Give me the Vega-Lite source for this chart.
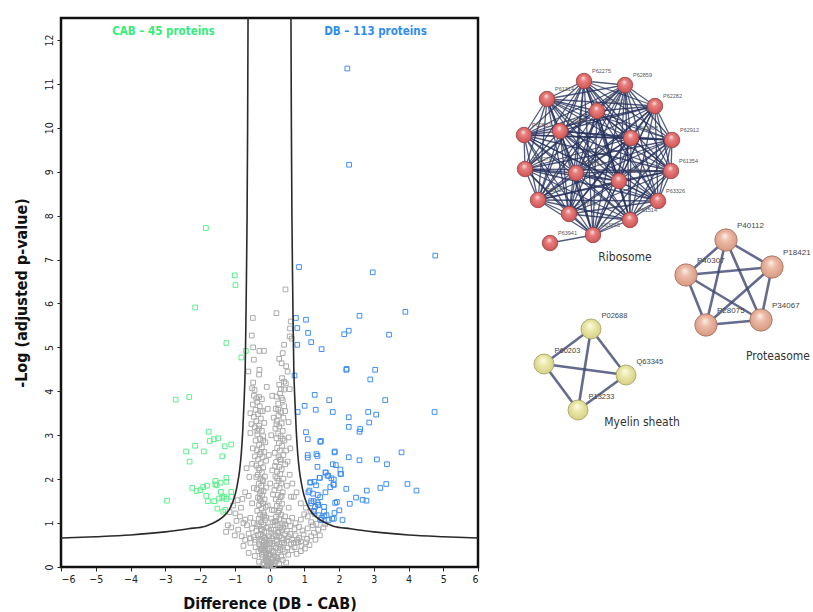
{
 "$schema": "https://vega.github.io/schema/vega-lite/v6.json",
 "background": "white",
 "padding": {"left": 11, "top": 16, "right": 0, "bottom": 0},
 "config": {"view": {"stroke": "#111", "strokeWidth": 2.5}, "font": "DejaVu Sans Condensed"},
 "spacing": 9,
 "datasets": {
  "volcano": [
   {"diff":0.46,"logp":6.32,"group":"ns"},{"diff":0.20,"logp":5.78,"group":"ns"},{"diff":-0.48,"logp":5.67,"group":"ns"},{"diff":0.61,"logp":5.59,"group":"ns"},{"diff":0.59,"logp":5.43,"group":"ns"},{"diff":-0.51,"logp":5.27,"group":"ns"},{"diff":0.58,"logp":5.25,"group":"ns"},{"diff":0.64,"logp":5.20,"group":"ns"},{"diff":0.42,"logp":5.06,"group":"ns"},{"diff":-0.47,"logp":5.00,"group":"ns"},{"diff":-0.29,"logp":4.92,"group":"ns"},{"diff":-0.16,"logp":4.92,"group":"ns"},{"diff":0.38,"logp":4.87,"group":"ns"},{"diff":-0.45,"logp":4.72,"group":"ns"},{"diff":0.28,"logp":4.74,"group":"ns"},{"diff":0.35,"logp":4.64,"group":"ns"},{"diff":0.48,"logp":4.57,"group":"ns"},{"diff":0.52,"logp":4.45,"group":"ns"},{"diff":-0.61,"logp":4.45,"group":"ns"},{"diff":-0.29,"logp":4.49,"group":"ns"},{"diff":-0.30,"logp":4.38,"group":"ns"},{"diff":0.36,"logp":4.30,"group":"ns"},{"diff":0.42,"logp":4.22,"group":"ns"},{"diff":0.47,"logp":4.18,"group":"ns"},{"diff":-0.47,"logp":4.20,"group":"ns"},{"diff":-0.50,"logp":4.07,"group":"ns"},{"diff":-0.43,"logp":4.03,"group":"ns"},{"diff":0.33,"logp":4.05,"group":"ns"},{"diff":0.42,"logp":4.04,"group":"ns"},{"diff":0.58,"logp":4.05,"group":"ns"},{"diff":-0.08,"logp":4.10,"group":"ns"},{"diff":0.28,"logp":4.15,"group":"ns"},
   {"diff":-0.45,"logp":3.90,"group":"ns"},{"diff":-0.38,"logp":3.84,"group":"ns"},{"diff":-0.30,"logp":3.87,"group":"ns"},{"diff":-0.22,"logp":3.82,"group":"ns"},{"diff":-0.35,"logp":3.76,"group":"ns"},{"diff":-0.48,"logp":3.70,"group":"ns"},{"diff":-0.28,"logp":3.66,"group":"ns"},{"diff":-0.40,"logp":3.58,"group":"ns"},{"diff":-0.20,"logp":3.55,"group":"ns"},{"diff":-0.33,"logp":3.48,"group":"ns"},{"diff":-0.45,"logp":3.42,"group":"ns"},{"diff":-0.25,"logp":3.38,"group":"ns"},{"diff":-0.38,"logp":3.32,"group":"ns"},{"diff":-0.15,"logp":3.28,"group":"ns"},{"diff":-0.52,"logp":3.25,"group":"ns"},{"diff":-0.30,"logp":3.22,"group":"ns"},{"diff":-0.42,"logp":3.18,"group":"ns"},
   {"diff":-0.31,"logp":3.15,"group":"ns"},{"diff":-0.22,"logp":3.10,"group":"ns"},{"diff":-0.35,"logp":3.02,"group":"ns"},{"diff":-0.18,"logp":2.98,"group":"ns"},{"diff":-0.27,"logp":2.92,"group":"ns"},{"diff":-0.40,"logp":2.88,"group":"ns"},{"diff":-0.12,"logp":2.84,"group":"ns"},{"diff":-0.30,"logp":2.78,"group":"ns"},{"diff":-0.22,"logp":2.72,"group":"ns"},{"diff":-0.36,"logp":2.66,"group":"ns"},{"diff":-0.15,"logp":2.62,"group":"ns"},{"diff":-0.28,"logp":2.57,"group":"ns"},{"diff":-0.20,"logp":2.50,"group":"ns"},{"diff":-0.33,"logp":2.45,"group":"ns"},{"diff":-0.10,"logp":2.42,"group":"ns"},{"diff":-0.25,"logp":2.36,"group":"ns"},{"diff":-0.38,"logp":2.31,"group":"ns"},{"diff":-0.18,"logp":2.27,"group":"ns"},{"diff":-0.29,"logp":2.21,"group":"ns"},{"diff":-0.22,"logp":2.15,"group":"ns"},{"diff":-0.34,"logp":2.10,"group":"ns"},{"diff":-0.13,"logp":2.06,"group":"ns"},{"diff":-0.26,"logp":2.01,"group":"ns"},{"diff":-0.19,"logp":1.95,"group":"ns"},{"diff":-0.31,"logp":1.90,"group":"ns"},{"diff":-0.24,"logp":1.85,"group":"ns"},{"diff":-0.09,"logp":1.81,"group":"ns"},{"diff":-0.36,"logp":1.77,"group":"ns"},{"diff":-0.17,"logp":1.73,"group":"ns"},{"diff":-0.28,"logp":1.68,"group":"ns"},{"diff":-0.21,"logp":1.63,"group":"ns"},{"diff":-0.33,"logp":1.58,"group":"ns"},{"diff":-0.14,"logp":1.54,"group":"ns"},{"diff":-0.25,"logp":1.50,"group":"ns"},{"diff":-0.19,"logp":1.45,"group":"ns"},{"diff":-0.30,"logp":1.41,"group":"ns"},{"diff":-0.11,"logp":1.37,"group":"ns"},{"diff":-0.23,"logp":1.33,"group":"ns"},{"diff":-0.35,"logp":1.28,"group":"ns"},{"diff":-0.17,"logp":1.24,"group":"ns"},{"diff":-0.27,"logp":1.19,"group":"ns"},{"diff":-0.20,"logp":1.15,"group":"ns"},{"diff":-0.31,"logp":1.10,"group":"ns"},{"diff":-0.13,"logp":1.06,"group":"ns"},{"diff":-0.24,"logp":1.02,"group":"ns"},{"diff":-0.18,"logp":0.97,"group":"ns"},{"diff":-0.29,"logp":0.93,"group":"ns"},{"diff":-0.09,"logp":0.89,"group":"ns"},{"diff":-0.22,"logp":0.84,"group":"ns"},{"diff":-0.15,"logp":0.80,"group":"ns"},{"diff":-0.26,"logp":0.75,"group":"ns"},{"diff":-0.19,"logp":0.70,"group":"ns"},{"diff":-0.12,"logp":0.66,"group":"ns"},{"diff":-0.23,"logp":0.61,"group":"ns"},{"diff":-0.16,"logp":0.56,"group":"ns"},{"diff":-0.08,"logp":0.52,"group":"ns"},{"diff":-0.20,"logp":0.47,"group":"ns"},{"diff":-0.13,"logp":0.43,"group":"ns"},{"diff":-0.05,"logp":0.38,"group":"ns"},{"diff":-0.17,"logp":0.34,"group":"ns"},{"diff":-0.10,"logp":0.29,"group":"ns"},{"diff":-0.03,"logp":0.25,"group":"ns"},{"diff":-0.12,"logp":0.20,"group":"ns"},{"diff":-0.06,"logp":0.15,"group":"ns"},{"diff":-0.01,"logp":0.10,"group":"ns"},{"diff":-0.08,"logp":0.06,"group":"ns"},{"diff":0.02,"logp":0.03,"group":"ns"},
   {"diff":0.30,"logp":3.95,"group":"ns"},{"diff":0.20,"logp":3.88,"group":"ns"},{"diff":0.38,"logp":3.80,"group":"ns"},{"diff":0.25,"logp":3.72,"group":"ns"},{"diff":0.42,"logp":3.66,"group":"ns"},{"diff":0.18,"logp":3.60,"group":"ns"},{"diff":0.33,"logp":3.52,"group":"ns"},{"diff":0.26,"logp":3.45,"group":"ns"},{"diff":0.40,"logp":3.40,"group":"ns"},{"diff":0.21,"logp":3.33,"group":"ns"},{"diff":0.35,"logp":3.27,"group":"ns"},{"diff":0.28,"logp":3.20,"group":"ns"},{"diff":0.17,"logp":3.15,"group":"ns"},{"diff":0.38,"logp":3.10,"group":"ns"},{"diff":0.25,"logp":3.04,"group":"ns"},{"diff":0.32,"logp":2.98,"group":"ns"},{"diff":0.20,"logp":2.93,"group":"ns"},{"diff":0.43,"logp":2.88,"group":"ns"},{"diff":0.27,"logp":2.82,"group":"ns"},{"diff":0.36,"logp":2.76,"group":"ns"},{"diff":0.22,"logp":2.71,"group":"ns"},{"diff":0.30,"logp":2.65,"group":"ns"},{"diff":0.15,"logp":2.60,"group":"ns"},{"diff":0.40,"logp":2.55,"group":"ns"},{"diff":0.26,"logp":2.50,"group":"ns"},{"diff":0.33,"logp":2.44,"group":"ns"},{"diff":0.19,"logp":2.39,"group":"ns"},{"diff":0.45,"logp":2.34,"group":"ns"},{"diff":0.28,"logp":2.28,"group":"ns"},{"diff":0.35,"logp":2.22,"group":"ns"},{"diff":0.22,"logp":2.17,"group":"ns"},{"diff":0.31,"logp":2.12,"group":"ns"},{"diff":0.17,"logp":2.06,"group":"ns"},{"diff":0.40,"logp":2.01,"group":"ns"},{"diff":0.26,"logp":1.96,"group":"ns"},{"diff":0.34,"logp":1.90,"group":"ns"},{"diff":0.20,"logp":1.85,"group":"ns"},{"diff":0.29,"logp":1.80,"group":"ns"},{"diff":0.14,"logp":1.75,"group":"ns"},{"diff":0.38,"logp":1.70,"group":"ns"},{"diff":0.24,"logp":1.64,"group":"ns"},{"diff":0.32,"logp":1.59,"group":"ns"},{"diff":0.18,"logp":1.54,"group":"ns"},{"diff":0.27,"logp":1.49,"group":"ns"},{"diff":0.36,"logp":1.44,"group":"ns"},{"diff":0.21,"logp":1.39,"group":"ns"},{"diff":0.30,"logp":1.34,"group":"ns"},{"diff":0.13,"logp":1.29,"group":"ns"},{"diff":0.25,"logp":1.24,"group":"ns"},{"diff":0.34,"logp":1.19,"group":"ns"},{"diff":0.19,"logp":1.14,"group":"ns"},{"diff":0.28,"logp":1.09,"group":"ns"},{"diff":0.16,"logp":1.04,"group":"ns"},{"diff":0.37,"logp":0.99,"group":"ns"},{"diff":0.23,"logp":0.95,"group":"ns"},{"diff":0.31,"logp":0.90,"group":"ns"},{"diff":0.12,"logp":0.85,"group":"ns"},{"diff":0.26,"logp":0.80,"group":"ns"},
   {"diff":-0.55,"logp":3.05,"group":"ns"},{"diff":-0.48,"logp":2.70,"group":"ns"},{"diff":0.55,"logp":2.95,"group":"ns"},{"diff":0.60,"logp":2.70,"group":"ns"},{"diff":0.05,"logp":3.00,"group":"ns"},{"diff":-0.02,"logp":2.55,"group":"ns"},{"diff":0.08,"logp":2.20,"group":"ns"},{"diff":-0.50,"logp":2.35,"group":"ns"},{"diff":0.52,"logp":2.40,"group":"ns"},{"diff":0.58,"logp":2.10,"group":"ns"},{"diff":-0.58,"logp":2.05,"group":"ns"},{"diff":0.02,"logp":1.90,"group":"ns"},{"diff":0.10,"logp":1.65,"group":"ns"},{"diff":-0.45,"logp":1.80,"group":"ns"},{"diff":0.50,"logp":1.85,"group":"ns"},{"diff":0.62,"logp":1.60,"group":"ns"},{"diff":-0.60,"logp":1.62,"group":"ns"},{"diff":-0.05,"logp":1.40,"group":"ns"},{"diff":0.07,"logp":1.30,"group":"ns"},{"diff":-0.50,"logp":1.45,"group":"ns"},{"diff":0.55,"logp":1.35,"group":"ns"},{"diff":0.70,"logp":1.60,"group":"ns"},{"diff":0.78,"logp":1.70,"group":"ns"},{"diff":-0.70,"logp":1.70,"group":"ns"},{"diff":-0.78,"logp":1.55,"group":"ns"},{"diff":0.66,"logp":1.90,"group":"ns"},{"diff":-0.66,"logp":2.25,"group":"ns"},{"diff":0.48,"logp":2.65,"group":"ns"},{"diff":-0.42,"logp":2.52,"group":"ns"},{"diff":0.45,"logp":3.55,"group":"ns"},{"diff":0.55,"logp":3.30,"group":"ns"},{"diff":-0.55,"logp":3.50,"group":"ns"},{"diff":0.12,"logp":3.40,"group":"ns"},{"diff":-0.05,"logp":3.60,"group":"ns"},{"diff":0.08,"logp":3.90,"group":"ns"},
   {"diff":-0.95,"logp":1.05,"group":"ns"},{"diff":-0.85,"logp":1.15,"group":"ns"},{"diff":-0.70,"logp":1.08,"group":"ns"},{"diff":-0.55,"logp":1.12,"group":"ns"},{"diff":-0.45,"logp":1.00,"group":"ns"},{"diff":0.05,"logp":1.10,"group":"ns"},{"diff":0.10,"logp":1.02,"group":"ns"},{"diff":0.45,"logp":1.15,"group":"ns"},{"diff":0.55,"logp":1.05,"group":"ns"},{"diff":0.65,"logp":1.12,"group":"ns"},{"diff":0.75,"logp":1.00,"group":"ns"},{"diff":0.90,"logp":1.08,"group":"ns"},{"diff":1.00,"logp":1.20,"group":"ns"},{"diff":1.20,"logp":1.02,"group":"ns"},{"diff":1.10,"logp":1.15,"group":"ns"},
   {"diff":-1.10,"logp":0.90,"group":"ns"},{"diff":-0.90,"logp":0.85,"group":"ns"},{"diff":-0.65,"logp":0.95,"group":"ns"},{"diff":-0.50,"logp":0.88,"group":"ns"},{"diff":-0.38,"logp":0.82,"group":"ns"},{"diff":-0.05,"logp":0.92,"group":"ns"},{"diff":0.05,"logp":0.85,"group":"ns"},{"diff":0.15,"logp":0.95,"group":"ns"},{"diff":0.40,"logp":0.90,"group":"ns"},{"diff":0.50,"logp":0.82,"group":"ns"},{"diff":0.60,"logp":0.93,"group":"ns"},{"diff":0.72,"logp":0.86,"group":"ns"},{"diff":0.85,"logp":0.91,"group":"ns"},{"diff":0.95,"logp":0.83,"group":"ns"},{"diff":1.10,"logp":0.88,"group":"ns"},{"diff":1.25,"logp":0.95,"group":"ns"},{"diff":1.40,"logp":0.85,"group":"ns"},{"diff":1.55,"logp":0.90,"group":"ns"},{"diff":1.35,"logp":0.98,"group":"ns"},
   {"diff":-1.00,"logp":0.72,"group":"ns"},{"diff":-0.80,"logp":0.70,"group":"ns"},{"diff":-0.60,"logp":0.76,"group":"ns"},{"diff":-0.45,"logp":0.68,"group":"ns"},{"diff":-0.33,"logp":0.73,"group":"ns"},{"diff":-0.02,"logp":0.70,"group":"ns"},{"diff":0.08,"logp":0.65,"group":"ns"},{"diff":0.18,"logp":0.72,"group":"ns"},{"diff":0.35,"logp":0.66,"group":"ns"},{"diff":0.45,"logp":0.75,"group":"ns"},{"diff":0.55,"logp":0.68,"group":"ns"},{"diff":0.65,"logp":0.62,"group":"ns"},{"diff":0.75,"logp":0.72,"group":"ns"},{"diff":0.85,"logp":0.66,"group":"ns"},{"diff":0.98,"logp":0.74,"group":"ns"},{"diff":1.08,"logp":0.64,"group":"ns"},{"diff":1.20,"logp":0.70,"group":"ns"},{"diff":1.32,"logp":0.62,"group":"ns"},{"diff":1.45,"logp":0.72,"group":"ns"},{"diff":1.28,"logp":0.78,"group":"ns"},{"diff":-0.70,"logp":0.62,"group":"ns"},
   {"diff":-0.75,"logp":0.48,"group":"ns"},{"diff":-0.55,"logp":0.55,"group":"ns"},{"diff":-0.40,"logp":0.45,"group":"ns"},{"diff":-0.30,"logp":0.58,"group":"ns"},{"diff":-0.12,"logp":0.50,"group":"ns"},{"diff":0.02,"logp":0.55,"group":"ns"},{"diff":0.12,"logp":0.48,"group":"ns"},{"diff":0.22,"logp":0.58,"group":"ns"},{"diff":0.32,"logp":0.46,"group":"ns"},{"diff":0.42,"logp":0.55,"group":"ns"},{"diff":0.52,"logp":0.44,"group":"ns"},{"diff":0.62,"logp":0.52,"group":"ns"},{"diff":0.72,"logp":0.45,"group":"ns"},{"diff":0.82,"logp":0.56,"group":"ns"},{"diff":0.92,"logp":0.48,"group":"ns"},{"diff":1.02,"logp":0.42,"group":"ns"},{"diff":1.15,"logp":0.50,"group":"ns"},{"diff":-0.22,"logp":0.42,"group":"ns"},{"diff":0.28,"logp":0.52,"group":"ns"},{"diff":0.38,"logp":0.40,"group":"ns"},
   {"diff":-0.60,"logp":0.32,"group":"ns"},{"diff":-0.42,"logp":0.25,"group":"ns"},{"diff":-0.32,"logp":0.36,"group":"ns"},{"diff":-0.22,"logp":0.28,"group":"ns"},{"diff":-0.14,"logp":0.38,"group":"ns"},{"diff":-0.02,"logp":0.30,"group":"ns"},{"diff":0.06,"logp":0.36,"group":"ns"},{"diff":0.14,"logp":0.26,"group":"ns"},{"diff":0.24,"logp":0.33,"group":"ns"},{"diff":0.34,"logp":0.24,"group":"ns"},{"diff":0.44,"logp":0.35,"group":"ns"},{"diff":0.54,"logp":0.28,"group":"ns"},{"diff":0.64,"logp":0.38,"group":"ns"},{"diff":0.78,"logp":0.30,"group":"ns"},{"diff":0.90,"logp":0.36,"group":"ns"},{"diff":0.18,"logp":0.22,"group":"ns"},{"diff":-0.08,"logp":0.22,"group":"ns"},
   {"diff":-0.30,"logp":0.12,"group":"ns"},{"diff":-0.18,"logp":0.08,"group":"ns"},{"diff":-0.10,"logp":0.16,"group":"ns"},{"diff":0.00,"logp":0.05,"group":"ns"},{"diff":0.06,"logp":0.12,"group":"ns"},{"diff":0.12,"logp":0.04,"group":"ns"},{"diff":0.20,"logp":0.14,"group":"ns"},{"diff":0.28,"logp":0.08,"group":"ns"},{"diff":0.38,"logp":0.16,"group":"ns"},{"diff":0.48,"logp":0.10,"group":"ns"},{"diff":0.10,"logp":0.18,"group":"ns"},{"diff":-0.04,"logp":0.02,"group":"ns"},
   {"diff":-1.15,"logp":1.25,"group":"ns"},{"diff":-1.05,"logp":1.40,"group":"ns"},{"diff":-0.92,"logp":1.52,"group":"ns"},{"diff":-1.20,"logp":0.95,"group":"ns"},{"diff":-0.98,"logp":1.22,"group":"ns"},{"diff":-0.82,"logp":1.35,"group":"ns"},{"diff":-0.75,"logp":1.00,"group":"ns"},{"diff":-1.25,"logp":0.80,"group":"ns"},{"diff":0.90,"logp":1.45,"group":"ns"},{"diff":1.05,"logp":1.35,"group":"ns"},{"diff":1.18,"logp":1.28,"group":"ns"},{"diff":1.30,"logp":1.20,"group":"ns"},{"diff":1.45,"logp":1.08,"group":"ns"},{"diff":1.60,"logp":0.98,"group":"ns"},
   {"diff":-0.15,"logp":0.05,"group":"ns"},{"diff":0.05,"logp":0.08,"group":"ns"},{"diff":-0.05,"logp":0.12,"group":"ns"},{"diff":0.15,"logp":0.10,"group":"ns"},{"diff":-0.20,"logp":0.22,"group":"ns"},{"diff":0.22,"logp":0.20,"group":"ns"},{"diff":0.02,"logp":0.28,"group":"ns"},{"diff":-0.10,"logp":0.32,"group":"ns"},{"diff":0.12,"logp":0.34,"group":"ns"},{"diff":-0.25,"logp":0.40,"group":"ns"},{"diff":0.30,"logp":0.38,"group":"ns"},{"diff":0.00,"logp":0.42,"group":"ns"},{"diff":0.18,"logp":0.44,"group":"ns"},{"diff":-0.16,"logp":0.48,"group":"ns"},{"diff":0.08,"logp":0.52,"group":"ns"},{"diff":-0.30,"logp":0.52,"group":"ns"},{"diff":0.35,"logp":0.55,"group":"ns"},{"diff":0.00,"logp":0.60,"group":"ns"},{"diff":-0.08,"logp":0.62,"group":"ns"},{"diff":0.20,"logp":0.62,"group":"ns"},{"diff":0.12,"logp":0.70,"group":"ns"},{"diff":-0.15,"logp":0.66,"group":"ns"},{"diff":0.28,"logp":0.70,"group":"ns"},{"diff":0.40,"logp":0.62,"group":"ns"},{"diff":-0.40,"logp":0.62,"group":"ns"},{"diff":0.50,"logp":0.60,"group":"ns"},{"diff":0.60,"logp":0.75,"group":"ns"},{"diff":0.70,"logp":0.55,"group":"ns"},{"diff":0.80,"logp":0.62,"group":"ns"},{"diff":-0.55,"logp":0.65,"group":"ns"},{"diff":0.90,"logp":0.58,"group":"ns"},{"diff":1.05,"logp":0.56,"group":"ns"},{"diff":0.25,"logp":0.78,"group":"ns"},{"diff":0.05,"logp":0.78,"group":"ns"},{"diff":-0.25,"logp":0.86,"group":"ns"},{"diff":0.35,"logp":0.84,"group":"ns"},{"diff":0.45,"logp":0.97,"group":"ns"},{"diff":-0.35,"logp":0.97,"group":"ns"},{"diff":0.20,"logp":1.05,"group":"ns"},{"diff":-0.10,"logp":1.12,"group":"ns"},
   {"diff":-0.25,"logp":2.62,"group":"ns"},{"diff":-0.32,"logp":2.25,"group":"ns"},{"diff":-0.20,"logp":1.98,"group":"ns"},{"diff":-0.28,"logp":1.55,"group":"ns"},{"diff":-0.15,"logp":1.18,"group":"ns"},{"diff":0.30,"logp":2.45,"group":"ns"},{"diff":0.22,"logp":2.02,"group":"ns"},{"diff":0.35,"logp":1.62,"group":"ns"},{"diff":0.28,"logp":1.28,"group":"ns"},{"diff":0.42,"logp":1.05,"group":"ns"},{"diff":-0.35,"logp":3.10,"group":"ns"},{"diff":-0.26,"logp":3.55,"group":"ns"},{"diff":0.25,"logp":3.58,"group":"ns"},{"diff":0.35,"logp":3.85,"group":"ns"},{"diff":0.20,"logp":3.25,"group":"ns"},{"diff":-0.18,"logp":2.88,"group":"ns"},{"diff":0.38,"logp":2.92,"group":"ns"},{"diff":-0.38,"logp":2.05,"group":"ns"},{"diff":0.16,"logp":2.30,"group":"ns"},{"diff":-0.24,"logp":1.72,"group":"ns"},
   {"diff":-1.83,"logp":7.72,"group":"CAB"},{"diff":-1.00,"logp":6.64,"group":"CAB"},{"diff":-0.98,"logp":6.42,"group":"CAB"},{"diff":-2.14,"logp":5.91,"group":"CAB"},{"diff":-1.24,"logp":5.10,"group":"CAB"},{"diff":-0.68,"logp":4.92,"group":"CAB"},{"diff":-0.81,"logp":4.77,"group":"CAB"},{"diff":-2.70,"logp":3.81,"group":"CAB"},{"diff":-2.31,"logp":3.87,"group":"CAB"},{"diff":-1.75,"logp":3.08,"group":"CAB"},{"diff":-1.72,"logp":2.87,"group":"CAB"},{"diff":-1.60,"logp":2.91,"group":"CAB"},{"diff":-1.48,"logp":2.93,"group":"CAB"},{"diff":-1.29,"logp":2.75,"group":"CAB"},{"diff":-1.10,"logp":2.79,"group":"CAB"},{"diff":-2.14,"logp":2.76,"group":"CAB"},{"diff":-2.40,"logp":2.63,"group":"CAB"},{"diff":-1.89,"logp":2.63,"group":"CAB"},{"diff":-1.36,"logp":2.52,"group":"CAB"},{"diff":-2.30,"logp":2.40,"group":"CAB"},{"diff":-2.95,"logp":1.51,"group":"CAB"},{"diff":-2.22,"logp":1.80,"group":"CAB"},{"diff":-2.10,"logp":1.73,"group":"CAB"},{"diff":-1.99,"logp":1.75,"group":"CAB"},{"diff":-1.91,"logp":1.82,"group":"CAB"},{"diff":-1.80,"logp":1.85,"group":"CAB"},{"diff":-1.56,"logp":1.96,"group":"CAB"},{"diff":-1.56,"logp":1.88,"group":"CAB"},{"diff":-1.41,"logp":1.92,"group":"CAB"},{"diff":-1.24,"logp":2.03,"group":"CAB"},{"diff":-1.24,"logp":1.94,"group":"CAB"},{"diff":-1.52,"logp":1.86,"group":"CAB"},{"diff":-1.82,"logp":1.62,"group":"CAB"},{"diff":-1.77,"logp":1.50,"group":"CAB"},{"diff":-1.59,"logp":1.50,"group":"CAB"},{"diff":-1.40,"logp":1.71,"group":"CAB"},{"diff":-1.45,"logp":1.56,"group":"CAB"},{"diff":-1.36,"logp":1.58,"group":"CAB"},{"diff":-1.30,"logp":1.60,"group":"CAB"},{"diff":-1.10,"logp":1.71,"group":"CAB"},{"diff":-1.24,"logp":1.55,"group":"CAB"},{"diff":-1.10,"logp":1.60,"group":"CAB"},{"diff":-1.50,"logp":1.33,"group":"CAB"},{"diff":-1.33,"logp":1.26,"group":"CAB"},{"diff":-1.27,"logp":1.30,"group":"CAB"},
   {"diff":2.24,"logp":11.35,"group":"DB"},{"diff":2.29,"logp":9.16,"group":"DB"},{"diff":0.85,"logp":6.83,"group":"DB"},{"diff":2.97,"logp":6.71,"group":"DB"},{"diff":4.77,"logp":7.09,"group":"DB"},{"diff":3.91,"logp":5.81,"group":"DB"},{"diff":2.59,"logp":5.72,"group":"DB"},{"diff":0.76,"logp":5.67,"group":"DB"},{"diff":1.05,"logp":5.63,"group":"DB"},{"diff":0.80,"logp":5.44,"group":"DB"},{"diff":2.28,"logp":5.38,"group":"DB"},{"diff":2.15,"logp":5.30,"group":"DB"},{"diff":3.44,"logp":5.29,"group":"DB"},{"diff":1.11,"logp":5.33,"group":"DB"},{"diff":1.20,"logp":5.12,"group":"DB"},{"diff":0.80,"logp":5.06,"group":"DB"},{"diff":1.50,"logp":4.96,"group":"DB"},{"diff":2.21,"logp":4.49,"group":"DB"},{"diff":2.22,"logp":4.51,"group":"DB"},{"diff":3.04,"logp":4.49,"group":"DB"},{"diff":2.90,"logp":4.27,"group":"DB"},{"diff":0.72,"logp":4.36,"group":"DB"},{"diff":1.30,"logp":3.92,"group":"DB"},{"diff":1.72,"logp":3.80,"group":"DB"},{"diff":3.33,"logp":3.80,"group":"DB"},{"diff":1.01,"logp":3.67,"group":"DB"},{"diff":1.33,"logp":3.58,"group":"DB"},{"diff":1.82,"logp":3.53,"group":"DB"},{"diff":0.81,"logp":3.53,"group":"DB"},{"diff":2.84,"logp":3.53,"group":"DB"},{"diff":4.75,"logp":3.53,"group":"DB"},{"diff":3.07,"logp":3.47,"group":"DB"},{"diff":2.28,"logp":3.41,"group":"DB"},{"diff":2.28,"logp":3.19,"group":"DB"},{"diff":2.87,"logp":3.29,"group":"DB"},{"diff":2.61,"logp":3.14,"group":"DB"},{"diff":2.59,"logp":3.08,"group":"DB"},
   {"diff":1.05,"logp":3.07,"group":"DB"},{"diff":1.10,"logp":2.91,"group":"DB"},{"diff":1.46,"logp":2.85,"group":"DB"},{"diff":1.48,"logp":2.87,"group":"DB"},{"diff":3.80,"logp":2.61,"group":"DB"},{"diff":1.87,"logp":2.61,"group":"DB"},{"diff":1.88,"logp":2.63,"group":"DB"},{"diff":1.10,"logp":2.55,"group":"DB"},{"diff":1.35,"logp":2.57,"group":"DB"},{"diff":1.38,"logp":2.53,"group":"DB"},{"diff":2.28,"logp":2.50,"group":"DB"},{"diff":2.59,"logp":2.43,"group":"DB"},{"diff":3.09,"logp":2.45,"group":"DB"},{"diff":1.10,"logp":2.49,"group":"DB"},{"diff":1.82,"logp":2.34,"group":"DB"},{"diff":1.91,"logp":2.32,"group":"DB"},{"diff":3.38,"logp":2.34,"group":"DB"},{"diff":1.38,"logp":2.28,"group":"DB"},{"diff":2.04,"logp":2.22,"group":"DB"},{"diff":2.04,"logp":2.12,"group":"DB"},{"diff":1.61,"logp":2.15,"group":"DB"},{"diff":1.69,"logp":2.08,"group":"DB"},{"diff":1.44,"logp":2.03,"group":"DB"},{"diff":1.78,"logp":2.02,"group":"DB"},{"diff":1.18,"logp":1.93,"group":"DB"},{"diff":1.29,"logp":1.94,"group":"DB"},{"diff":1.84,"logp":1.88,"group":"DB"},{"diff":1.34,"logp":1.86,"group":"DB"},{"diff":3.97,"logp":1.89,"group":"DB"},{"diff":3.36,"logp":1.89,"group":"DB"},{"diff":3.19,"logp":1.80,"group":"DB"},{"diff":2.21,"logp":1.78,"group":"DB"},{"diff":1.75,"logp":1.82,"group":"DB"},{"diff":1.15,"logp":1.74,"group":"DB"},{"diff":1.25,"logp":1.67,"group":"DB"},{"diff":1.61,"logp":1.70,"group":"DB"},{"diff":4.23,"logp":1.74,"group":"DB"},{"diff":2.80,"logp":1.74,"group":"DB"},{"diff":1.39,"logp":1.64,"group":"DB"},{"diff":1.46,"logp":1.59,"group":"DB"},{"diff":2.49,"logp":1.58,"group":"DB"},{"diff":2.68,"logp":1.53,"group":"DB"},{"diff":2.79,"logp":1.51,"group":"DB"},{"diff":1.27,"logp":1.50,"group":"DB"},{"diff":1.89,"logp":1.46,"group":"DB"},{"diff":1.94,"logp":1.48,"group":"DB"},{"diff":2.31,"logp":1.44,"group":"DB"},{"diff":1.20,"logp":1.45,"group":"DB"},{"diff":1.41,"logp":1.41,"group":"DB"},{"diff":1.31,"logp":1.37,"group":"DB"},{"diff":1.57,"logp":1.37,"group":"DB"},{"diff":2.01,"logp":1.29,"group":"DB"},{"diff":1.87,"logp":1.23,"group":"DB"},{"diff":1.27,"logp":1.26,"group":"DB"},{"diff":1.57,"logp":1.26,"group":"DB"},{"diff":1.41,"logp":1.18,"group":"DB"},{"diff":1.58,"logp":1.16,"group":"DB"},{"diff":1.80,"logp":1.10,"group":"DB"},{"diff":1.85,"logp":1.10,"group":"DB"},{"diff":1.70,"logp":1.07,"group":"DB"},{"diff":2.10,"logp":1.07,"group":"DB"},{"diff":1.49,"logp":1.07,"group":"DB"},{"diff":1.64,"logp":1.18,"group":"DB"},{"diff":1.50,"logp":1.12,"group":"DB"},{"diff":1.28,"logp":1.28,"group":"DB"},{"diff":1.17,"logp":1.92,"group":"DB"},{"diff":1.45,"logp":2.03,"group":"DB"},{"diff":1.67,"logp":2.08,"group":"DB"},{"diff":1.85,"logp":1.87,"group":"DB"},{"diff":1.40,"logp":1.42,"group":"DB"},{"diff":1.38,"logp":1.47,"group":"DB"},{"diff":1.20,"logp":1.50,"group":"DB"},{"diff":1.85,"logp":1.99,"group":"DB"},{"diff":1.12,"logp":1.70,"group":"DB"},{"diff":2.06,"logp":2.12,"group":"DB"},{"diff":1.62,"logp":2.15,"group":"DB"}
  ],
  "curve": [
   {"side":"R","diff":0.615,"logp":13},{"side":"R","diff":0.63,"logp":10},{"side":"R","diff":0.645,"logp":8},{"side":"R","diff":0.665,"logp":6.5},{"side":"R","diff":0.68,"logp":5.5},{"side":"R","diff":0.70,"logp":4.5},{"side":"R","diff":0.73,"logp":3.8},{"side":"R","diff":0.77,"logp":3.1},{"side":"R","diff":0.81,"logp":2.6},{"side":"R","diff":0.86,"logp":2.2},{"side":"R","diff":0.92,"logp":1.9},{"side":"R","diff":0.98,"logp":1.67},{"side":"R","diff":1.07,"logp":1.45},{"side":"R","diff":1.17,"logp":1.29},{"side":"R","diff":1.30,"logp":1.17},{"side":"R","diff":1.46,"logp":1.07},{"side":"R","diff":1.65,"logp":0.99},{"side":"R","diff":1.84,"logp":0.93},{"side":"R","diff":2.33,"logp":0.87},{"side":"R","diff":3.0,"logp":0.80},{"side":"R","diff":4.0,"logp":0.73},{"side":"R","diff":5.0,"logp":0.69},{"side":"R","diff":6.0,"logp":0.66},
   {"side":"L","diff":-0.615,"logp":13},{"side":"L","diff":-0.63,"logp":10},{"side":"L","diff":-0.645,"logp":8},{"side":"L","diff":-0.665,"logp":6.5},{"side":"L","diff":-0.68,"logp":5.5},{"side":"L","diff":-0.70,"logp":4.5},{"side":"L","diff":-0.73,"logp":3.8},{"side":"L","diff":-0.77,"logp":3.1},{"side":"L","diff":-0.81,"logp":2.6},{"side":"L","diff":-0.86,"logp":2.2},{"side":"L","diff":-0.92,"logp":1.9},{"side":"L","diff":-0.98,"logp":1.67},{"side":"L","diff":-1.07,"logp":1.45},{"side":"L","diff":-1.17,"logp":1.29},{"side":"L","diff":-1.30,"logp":1.17},{"side":"L","diff":-1.46,"logp":1.07},{"side":"L","diff":-1.65,"logp":0.99},{"side":"L","diff":-1.84,"logp":0.93},{"side":"L","diff":-2.33,"logp":0.87},{"side":"L","diff":-3.0,"logp":0.80},{"side":"L","diff":-4.0,"logp":0.73},{"side":"L","diff":-5.0,"logp":0.69},{"side":"L","diff":-6.0,"logp":0.66}
  ],
  "annot": [
   {"label":"CAB – 45 proteins","group":"CAB"},{"label":"DB – 113 proteins","group":"DB"}
  ],
  "nodes": [
   {"id":"P62275","grp":"Ribosome","x":585,"y":79},{"id":"P62859","grp":"Ribosome","x":626,"y":83},{"id":"P61314","grp":"Ribosome","x":548,"y":97},{"id":"P62282","grp":"Ribosome","x":656,"y":104},{"id":"P62250","grp":"Ribosome","x":598,"y":109},{"id":"P62832","grp":"Ribosome","x":525,"y":133},{"id":"P29314","grp":"Ribosome","x":561,"y":129},{"id":"P62908","grp":"Ribosome","x":632,"y":136},{"id":"P62912","grp":"Ribosome","x":673,"y":138},{"id":"P62270","grp":"Ribosome","x":526,"y":167},{"id":"P62753","grp":"Ribosome","x":577,"y":171},{"id":"P62858","grp":"Ribosome","x":620,"y":179},{"id":"P61354","grp":"Ribosome","x":672,"y":169},{"id":"P63323","grp":"Ribosome","x":539,"y":198},{"id":"P63326","grp":"Ribosome","x":659,"y":199},{"id":"P27659","grp":"Ribosome","x":570,"y":212},{"id":"P61514","grp":"Ribosome","x":631,"y":218},{"id":"P63245","grp":"Ribosome","x":594,"y":233},{"id":"P63941","grp":"Ribosome","x":551,"y":241},
   {"id":"P40112","grp":"Proteasome","x":727,"y":238},{"id":"P18421","grp":"Proteasome","x":773,"y":265},{"id":"P40307","grp":"Proteasome","x":687,"y":273},{"id":"P34067","grp":"Proteasome","x":762,"y":318},{"id":"P28075","grp":"Proteasome","x":707,"y":323},
   {"id":"P02688","grp":"Myelin sheath","x":592,"y":327},{"id":"P60203","grp":"Myelin sheath","x":545,"y":362},{"id":"Q63345","grp":"Myelin sheath","x":627,"y":373},{"id":"P13233","grp":"Myelin sheath","x":579,"y":408}
  ],
  "edges": [
   {"s":"P62275","t":["P62859","P61314","P62282","P62250","P62832","P29314","P62908","P62912","P62270","P62753","P62858","P61354","P63323","P63326","P27659","P61514","P63245"]},
   {"s":"P62859","t":["P61314","P62282","P62250","P62832","P29314","P62908","P62912","P62270","P62753","P62858","P61354","P63323","P63326","P27659","P61514","P63245"]},
   {"s":"P61314","t":["P62282","P62250","P62832","P29314","P62908","P62912","P62270","P62753","P62858","P61354","P63323","P63326","P27659","P61514","P63245"]},
   {"s":"P62282","t":["P62250","P62832","P29314","P62908","P62912","P62270","P62753","P62858","P61354","P63323","P63326","P27659","P61514","P63245"]},
   {"s":"P62250","t":["P62832","P29314","P62908","P62912","P62270","P62753","P62858","P61354","P63323","P63326","P27659","P61514","P63245"]},
   {"s":"P62832","t":["P29314","P62908","P62912","P62270","P62753","P62858","P61354","P63323","P63326","P27659","P61514","P63245"]},
   {"s":"P29314","t":["P62908","P62912","P62270","P62753","P62858","P61354","P63323","P63326","P27659","P61514","P63245"]},
   {"s":"P62908","t":["P62912","P62270","P62753","P62858","P61354","P63323","P63326","P27659","P61514","P63245"]},
   {"s":"P62912","t":["P62270","P62753","P62858","P61354","P63323","P63326","P27659","P61514","P63245"]},
   {"s":"P62270","t":["P62753","P62858","P61354","P63323","P63326","P27659","P61514","P63245"]},
   {"s":"P62753","t":["P62858","P61354","P63323","P63326","P27659","P61514","P63245"]},
   {"s":"P62858","t":["P61354","P63323","P63326","P27659","P61514","P63245"]},
   {"s":"P61354","t":["P63323","P63326","P27659","P61514","P63245"]},
   {"s":"P63323","t":["P63326","P27659","P61514","P63245"]},
   {"s":"P63326","t":["P27659","P61514","P63245"]},
   {"s":"P27659","t":["P61514","P63245"]},
   {"s":"P61514","t":["P63245"]},
   {"s":"P63245","t":["P63941"]},
   {"s":"P40112","t":["P18421","P40307","P34067","P28075"]},
   {"s":"P18421","t":["P40307","P34067","P28075"]},
   {"s":"P40307","t":["P34067","P28075"]},
   {"s":"P34067","t":["P28075"]},
   {"s":"P02688","t":["P60203","Q63345","P13233"]},
   {"s":"P60203","t":["Q63345","P13233"]},
   {"s":"Q63345","t":["P13233"]}
  ],
  "groups": [
   {"name":"Ribosome"},{"name":"Proteasome"},{"name":"Myelin sheath"}
  ]
 },
 "hconcat": [
  {
   "width": 417,
   "height": 549,
   "layer": [
    {"data": {"name": "volcano"}, "mark": {"type": "square", "filled": false, "size": 22, "strokeWidth": 1, "opacity": 1},
     "encoding": {
      "x": {"field": "diff", "type": "quantitative", "title": "Difference (DB - CAB)",
       "scale": {"domain": [-6, 6], "nice": false, "zero": false},
       "axis": {"values": [-6,-5,-4,-3,-2,-1,0,1,2,3,4,5,6], "labelOverlap": false, "grid": false, "domain": false, "tickSize": 4, "tickColor": "#222", "labelFontSize": 10.5, "labelColor": "#222", "labelPadding": 3, "titleFontSize": 16, "titleFontWeight": "bold", "titleColor": "#111", "titlePadding": 11}},
      "y": {"field": "logp", "type": "quantitative", "title": "-Log (adjusted p-value)",
       "scale": {"domain": [0, 12.5], "nice": false},
       "axis": {"values": [0,1,2,3,4,5,6,7,8,9,10,11,12], "labelOverlap": false, "grid": false, "domain": false, "tickSize": 4, "tickColor": "#222", "labelAngle": -90, "labelAlign": "center", "labelBaseline": "bottom", "labelFontSize": 10.5, "labelColor": "#222", "labelPadding": 3, "titleFontSize": 16, "titleFontWeight": "bold", "titleColor": "#111", "titlePadding": 15}},
      "color": {"field": "group", "type": "nominal", "legend": null, "scale": {"domain": ["ns", "CAB", "DB"], "range": ["#ababab", "#5cf08c", "#3f8ff2"]}}}},
    {"data": {"name": "curve"}, "mark": {"type": "line", "color": "#2a2a2a", "strokeWidth": 1.6, "clip": true, "interpolate": "monotone"},
     "encoding": {
      "x": {"field": "diff", "type": "quantitative", "title": "Difference (DB - CAB)", "axis": {"values": [-6,-5,-4,-3,-2,-1,0,1,2,3,4,5,6], "labelOverlap": false, "grid": false, "domain": false, "tickSize": 4, "tickColor": "#222", "labelFontSize": 10.5, "labelColor": "#222", "labelPadding": 3, "titleFontSize": 16, "titleFontWeight": "bold", "titleColor": "#111", "titlePadding": 11}},
      "y": {"field": "logp", "type": "quantitative", "title": "-Log (adjusted p-value)", "axis": {"values": [0,1,2,3,4,5,6,7,8,9,10,11,12], "labelOverlap": false, "grid": false, "domain": false, "tickSize": 4, "tickColor": "#222", "labelAngle": -90, "labelAlign": "center", "labelBaseline": "bottom", "labelFontSize": 10.5, "labelColor": "#222", "labelPadding": 3, "titleFontSize": 16, "titleFontWeight": "bold", "titleColor": "#111", "titlePadding": 15}},
      "detail": {"field": "side"}, "order": {"field": "logp", "type": "quantitative"}}},
    {"data": {"name": "annot"}, "transform": [{"filter": "datum.group === 'CAB'"}],
     "mark": {"type": "text", "fontSize": 11.5, "fontWeight": "bold", "color": "#36ec7c"},
     "encoding": {
      "x": {"datum": -3.05, "type": "quantitative", "title": "Difference (DB - CAB)", "axis": {"values": [-6,-5,-4,-3,-2,-1,0,1,2,3,4,5,6], "labelOverlap": false, "grid": false, "domain": false, "tickSize": 4, "tickColor": "#222", "labelFontSize": 10.5, "labelColor": "#222", "labelPadding": 3, "titleFontSize": 16, "titleFontWeight": "bold", "titleColor": "#111", "titlePadding": 11}},
      "y": {"datum": 12.19, "type": "quantitative", "title": "-Log (adjusted p-value)", "axis": {"values": [0,1,2,3,4,5,6,7,8,9,10,11,12], "labelOverlap": false, "grid": false, "domain": false, "tickSize": 4, "tickColor": "#222", "labelAngle": -90, "labelAlign": "center", "labelBaseline": "bottom", "labelFontSize": 10.5, "labelColor": "#222", "labelPadding": 3, "titleFontSize": 16, "titleFontWeight": "bold", "titleColor": "#111", "titlePadding": 15}},
      "text": {"field": "label"}}},
    {"data": {"name": "annot"}, "transform": [{"filter": "datum.group === 'DB'"}],
     "mark": {"type": "text", "fontSize": 11.5, "fontWeight": "bold", "color": "#2f8cf2"},
     "encoding": {
      "x": {"datum": 3.05, "type": "quantitative", "title": "Difference (DB - CAB)", "axis": {"values": [-6,-5,-4,-3,-2,-1,0,1,2,3,4,5,6], "labelOverlap": false, "grid": false, "domain": false, "tickSize": 4, "tickColor": "#222", "labelFontSize": 10.5, "labelColor": "#222", "labelPadding": 3, "titleFontSize": 16, "titleFontWeight": "bold", "titleColor": "#111", "titlePadding": 11}},
      "y": {"datum": 12.19, "type": "quantitative", "title": "-Log (adjusted p-value)", "axis": {"values": [0,1,2,3,4,5,6,7,8,9,10,11,12], "labelOverlap": false, "grid": false, "domain": false, "tickSize": 4, "tickColor": "#222", "labelAngle": -90, "labelAlign": "center", "labelBaseline": "bottom", "labelFontSize": 10.5, "labelColor": "#222", "labelPadding": 3, "titleFontSize": 16, "titleFontWeight": "bold", "titleColor": "#111", "titlePadding": 15}},
      "text": {"field": "label"}}}
   ]
  },
  {
   "width": 323,
   "height": 549,
   "view": {"stroke": null},
   "layer": [
    {"data": {"name": "edges"},
     "transform": [
      {"flatten": ["t"]},
      {"lookup": "s", "from": {"data": {"name": "nodes"}, "key": "id", "fields": ["x", "y", "grp"]}},
      {"lookup": "t", "from": {"data": {"name": "nodes"}, "key": "id", "fields": ["x", "y"]}, "as": ["x2", "y2"]},
      {"filter": "datum.grp === 'Ribosome'"}
     ],
     "mark": {"type": "rule", "color": "#27325e", "strokeWidth": 1.3, "opacity": 0.8},
     "encoding": {
      "x": {"field": "x", "type": "quantitative", "scale": {"domain": [490, 813], "nice": false, "zero": false}, "axis": null},
      "y": {"field": "y", "type": "quantitative", "scale": {"domain": [16, 565], "nice": false, "zero": false, "reverse": true}, "axis": null},
      "x2": {"field": "x2"}, "y2": {"field": "y2"}}},
    {"data": {"name": "edges"},
     "transform": [
      {"flatten": ["t"]},
      {"lookup": "s", "from": {"data": {"name": "nodes"}, "key": "id", "fields": ["x", "y", "grp"]}},
      {"lookup": "t", "from": {"data": {"name": "nodes"}, "key": "id", "fields": ["x", "y"]}, "as": ["x2", "y2"]},
      {"filter": "datum.grp !== 'Ribosome'"}
     ],
     "mark": {"type": "rule", "color": "#3d4670", "strokeWidth": 2.6, "opacity": 0.8},
     "encoding": {"x": {"field": "x", "type": "quantitative", "axis": null}, "y": {"field": "y", "type": "quantitative", "axis": null}, "x2": {"field": "x2"}, "y2": {"field": "y2"}}},
    {"data": {"name": "nodes"}, "transform": [{"filter": "datum.grp === 'Ribosome'"}],
     "mark": {"type": "point", "shape": "circle", "filled": true, "size": 240, "stroke": "#9b4040", "strokeWidth": 0.8, "opacity": 1,
      "fill": {"gradient": "radial", "x1": 0.45, "y1": 0.3, "r1": 0, "x2": 0.5, "y2": 0.5, "r2": 0.6, "stops": [{"offset": 0, "color": "#fde4e4"}, {"offset": 0.3, "color": "#e88080"}, {"offset": 1, "color": "#c84a4a"}]}},
     "encoding": {"x": {"field": "x", "type": "quantitative", "axis": null}, "y": {"field": "y", "type": "quantitative", "axis": null}}},
    {"data": {"name": "nodes"}, "transform": [{"filter": "datum.grp === 'Proteasome'"}],
     "mark": {"type": "point", "shape": "circle", "filled": true, "size": 500, "stroke": "#a07060", "strokeWidth": 0.8, "opacity": 1,
      "fill": {"gradient": "radial", "x1": 0.45, "y1": 0.3, "r1": 0, "x2": 0.5, "y2": 0.5, "r2": 0.6, "stops": [{"offset": 0, "color": "#fdf0ea"}, {"offset": 0.35, "color": "#ecbca8"}, {"offset": 1, "color": "#d59078"}]}},
     "encoding": {"x": {"field": "x", "type": "quantitative", "axis": null}, "y": {"field": "y", "type": "quantitative", "axis": null}}},
    {"data": {"name": "nodes"}, "transform": [{"filter": "datum.grp === 'Myelin sheath'"}],
     "mark": {"type": "point", "shape": "circle", "filled": true, "size": 400, "stroke": "#a09e60", "strokeWidth": 0.8, "opacity": 1,
      "fill": {"gradient": "radial", "x1": 0.45, "y1": 0.3, "r1": 0, "x2": 0.5, "y2": 0.5, "r2": 0.6, "stops": [{"offset": 0, "color": "#fdfce8"}, {"offset": 0.35, "color": "#eeeab0"}, {"offset": 1, "color": "#cfca78"}]}},
     "encoding": {"x": {"field": "x", "type": "quantitative", "axis": null}, "y": {"field": "y", "type": "quantitative", "axis": null}}},
    {"data": {"name": "nodes"}, "transform": [{"filter": "datum.grp === 'Ribosome'"}],
     "mark": {"type": "text", "align": "left", "baseline": "middle", "dx": 8, "dy": -10, "fontSize": 5.5, "font": "Liberation Sans", "color": "#555"},
     "encoding": {"x": {"field": "x", "type": "quantitative", "axis": null}, "y": {"field": "y", "type": "quantitative", "axis": null}, "text": {"field": "id"}}},
    {"data": {"name": "nodes"}, "transform": [{"filter": "datum.grp === 'Proteasome'"}],
     "mark": {"type": "text", "align": "left", "baseline": "middle", "dx": 11, "dy": -14, "fontSize": 8, "font": "Liberation Sans", "color": "#444"},
     "encoding": {"x": {"field": "x", "type": "quantitative", "axis": null}, "y": {"field": "y", "type": "quantitative", "axis": null}, "text": {"field": "id"}}},
    {"data": {"name": "nodes"}, "transform": [{"filter": "datum.grp === 'Myelin sheath'"}],
     "mark": {"type": "text", "align": "left", "baseline": "middle", "dx": 10.5, "dy": -13, "fontSize": 7.5, "font": "Liberation Sans", "color": "#444"},
     "encoding": {"x": {"field": "x", "type": "quantitative", "axis": null}, "y": {"field": "y", "type": "quantitative", "axis": null}, "text": {"field": "id"}}},
    {"data": {"name": "groups"}, "transform": [{"filter": "datum.name === 'Ribosome'"}], "mark": {"type": "text", "fontSize": 12, "color": "#333"},
     "encoding": {"x": {"datum": 626, "type": "quantitative", "axis": null}, "y": {"datum": 255, "type": "quantitative", "axis": null}, "text": {"field": "name"}}},
    {"data": {"name": "groups"}, "transform": [{"filter": "datum.name === 'Proteasome'"}], "mark": {"type": "text", "fontSize": 12, "color": "#333"},
     "encoding": {"x": {"datum": 779, "type": "quantitative", "axis": null}, "y": {"datum": 354, "type": "quantitative", "axis": null}, "text": {"field": "name"}}},
    {"data": {"name": "groups"}, "transform": [{"filter": "datum.name === 'Myelin sheath'"}], "mark": {"type": "text", "fontSize": 12, "color": "#333"},
     "encoding": {"x": {"datum": 643, "type": "quantitative", "axis": null}, "y": {"datum": 420, "type": "quantitative", "axis": null}, "text": {"field": "name"}}}
   ]
  }
 ]
}
